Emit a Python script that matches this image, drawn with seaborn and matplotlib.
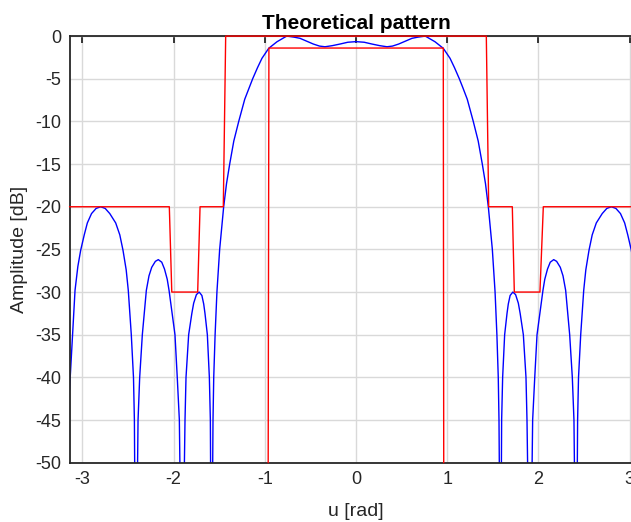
import numpy as np
import pandas as pd
import matplotlib
matplotlib.use("Agg")
import matplotlib.pyplot as plt
import seaborn as sns

PI = np.pi

# Array pattern (u in rad, amplitude in dB); nulls go below the axis
pattern_u = [-PI, -3.128, -3.10, -3.081, -3.05, -3.019, -2.98, -2.946, -2.90, -2.85, -2.80,
             -2.75, -2.70, -2.635, -2.59, -2.555, -2.52, -2.497, -2.464, -2.44, -2.43, -2.415,
             -2.39, -2.372, -2.343, -2.299, -2.27, -2.24, -2.20, -2.168, -2.13, -2.10, -2.07,
             -2.05, -2.02, -1.985, -1.96, -1.937, -1.908,
             -1.875, -1.864, -1.835, -1.80, -1.78, -1.75, -1.72, -1.69, -1.67, -1.656, -1.63,
             -1.608, -1.597, -1.585,
             -1.568, -1.56, -1.545, -1.525, -1.495, -1.451, -1.42, -1.385, -1.34, -1.286,
             -1.22, -1.17, -1.133, -1.08, -1.031, -0.957, -0.866, -0.76, -0.68, -0.614,
             -0.54, -0.468, -0.40, -0.34, -0.26, -0.175, -0.09, 0.0,
             0.09, 0.175, 0.26, 0.34, 0.40, 0.468, 0.54, 0.614, 0.68, 0.76, 0.866, 0.957,
             1.031, 1.08, 1.133, 1.17, 1.22, 1.286, 1.34, 1.385, 1.42, 1.451, 1.495, 1.525,
             1.545, 1.56, 1.568, 1.585,
             1.597, 1.608, 1.63, 1.656, 1.67, 1.69, 1.72, 1.75, 1.78, 1.80, 1.835, 1.864,
             1.875, 1.908,
             1.937, 1.96, 1.985, 2.02, 2.05, 2.07, 2.10, 2.13, 2.168, 2.20, 2.24, 2.27, 2.299,
             2.343, 2.372, 2.39, 2.415,
             2.43, 2.44, 2.464, 2.497, 2.52, 2.555, 2.59, 2.635, 2.70, 2.75, 2.80, 2.85,
             2.90, 2.946, 2.98, 3.019, 3.05, 3.081, 3.10, 3.128, PI]
pattern_db = [-41.5, -38.9, -33.5, -29.8, -27.0, -25.1, -23.3, -21.9, -20.8, -20.2, -20.0,
              -20.2, -20.8, -21.9, -23.3, -25.1, -27.4, -29.8, -35.0, -40.0, -45.0, -70.0,
              -45.0, -40.0, -35.0, -29.8, -28.1, -27.1, -26.4, -26.2, -26.5, -27.3, -28.5,
              -29.8, -32.2, -35.0, -40.0, -45.0, -70.0,
              -45.0, -40.0, -35.0, -32.5, -31.3, -30.3, -30.0, -30.4, -31.4, -32.5, -35.0,
              -40.0, -45.0, -70.0,
              -45.0, -40.0, -35.0, -30.0, -25.0, -20.0, -17.3, -15.0, -12.3, -10.0,
              -7.4, -6.0, -5.0, -3.7, -2.6, -1.43, -0.66, 0.0, -0.12, -0.26,
              -0.6, -0.93, -1.17, -1.25, -1.12, -0.93, -0.72, -0.65,
              -0.72, -0.93, -1.12, -1.25, -1.17, -0.93, -0.6, -0.26, -0.12, 0.0, -0.66, -1.43,
              -2.6, -3.7, -5.0, -6.0, -7.4, -10.0, -12.3, -15.0, -17.3, -20.0, -25.0, -30.0,
              -35.0, -40.0, -45.0, -70.0,
              -45.0, -40.0, -35.0, -32.5, -31.4, -30.4, -30.0, -30.3, -31.3, -32.5, -35.0, -40.0,
              -45.0, -70.0,
              -45.0, -40.0, -35.0, -32.2, -29.8, -28.5, -27.3, -26.5, -26.2, -26.4, -27.1, -28.1,
              -29.8, -35.0, -40.0, -45.0, -70.0,
              -45.0, -40.0, -35.0, -29.8, -27.4, -25.1, -23.3, -21.9, -20.8, -20.2, -20.0, -20.2,
              -20.8, -21.9, -23.3, -25.1, -27.0, -29.8, -33.5, -38.9, -41.5]

# Upper mask
upper_u = [-PI, -2.047, -2.02, -1.736, -1.71, -1.455, -1.429, 1.429, 1.455, 1.714, 1.736,
           2.017, 2.054, PI]
upper_db = [-20, -20, -30, -30, -20, -20, 0, 0, -20, -20, -30, -30, -20, -20]

# Lower mask
lower_u = [-0.963, -0.955, 0.957, 0.962]
lower_db = [-50, -1.4, -1.4, -50]

xticks = [-3, -2, -1, 0, 1, 2, 3]
yticks = [0, -5, -10, -15, -20, -25, -30, -35, -40, -45, -50]

sns.set_style("white")
plt.rcParams["font.family"] = ["Liberation Sans", "DejaVu Sans"]
plt.rcParams["axes.unicode_minus"] = False

W, H = 631, 522
fig = plt.figure(figsize=(W / 100, H / 100), dpi=100)
ax = fig.add_axes([69.5 / W, (H - 462.7) / H, 573.0 / W, 426.6 / H])

df_p = pd.DataFrame({"u": pattern_u, "dB": pattern_db})
df_up = pd.DataFrame({"u": upper_u, "dB": upper_db})
df_lo = pd.DataFrame({"u": lower_u, "dB": lower_db})

sns.lineplot(data=df_up, x="u", y="dB", sort=False, estimator=None, color=(1, 0, 0),
             lw=1.0, ax=ax, zorder=4, clip_on=False)
sns.lineplot(data=df_lo, x="u", y="dB", sort=False, estimator=None, color=(1, 0, 0),
             lw=1.0, ax=ax, zorder=4, clip_on=False)
sns.lineplot(data=df_p, x="u", y="dB", sort=False, estimator=None, color=(0, 0, 1),
             lw=1.0, ax=ax, zorder=3)

ax.set_xlim(-PI, PI)
ax.set_ylim(-50, 0)
ax.set_xticks(xticks)
ax.set_yticks(yticks)
ax.grid(True, color="#d9d9d9", lw=1.0)
ax.set_axisbelow(True)
for s in ax.spines.values():
    s.set_color("#262626")
    s.set_linewidth(1.3)
    s.set_zorder(3.5)
ax.tick_params(direction="in", length=5, width=1.3, color="#262626", top=True, right=True,
               labelsize=13, labelcolor="#262626", pad=6)
ax.set_xlabel("u [rad]", fontsize=14, color="#262626", labelpad=11)
ax.set_ylabel("Amplitude [dB]", fontsize=14, color="#262626", labelpad=5)
ax.set_title("Theoretical pattern", fontsize=15, fontweight="bold", color="black", pad=5)

fig.savefig("out.png", dpi=100)
